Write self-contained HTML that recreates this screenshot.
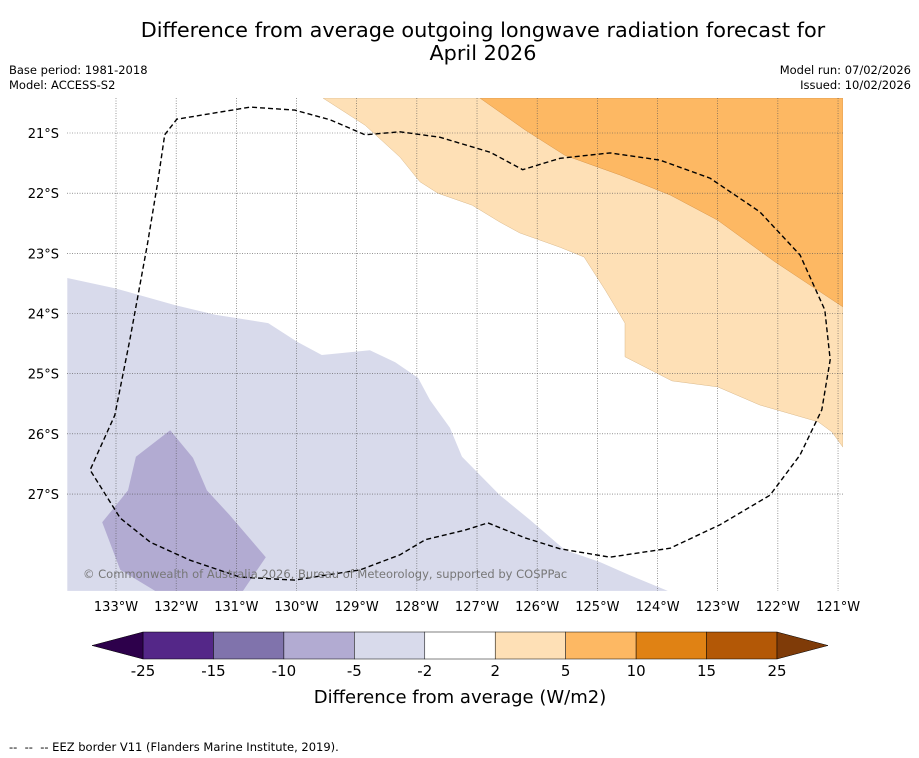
<!DOCTYPE html>
<html><head><meta charset="utf-8"><style>
body{margin:0;background:#fff;font-family:"Liberation Sans","DejaVu Sans",sans-serif}
#wrap{position:relative;width:919px;height:758px;overflow:hidden}
.t{position:absolute;white-space:nowrap;color:#000}
</style></head><body>
<div id="wrap">
<div class="t" style="left:0;width:966px;top:19px;text-align:center;font-size:20.8px;line-height:23px;font-family:'DejaVu Sans',sans-serif">Difference from average outgoing longwave radiation forecast for<br>April 2026</div>
<div class="t" style="left:9px;top:63px;font-size:11.5px;line-height:15px;font-family:'DejaVu Sans',sans-serif">Base period: 1981-2018<br>Model: ACCESS-S2</div>
<div class="t" style="right:8px;top:63px;font-size:11.5px;line-height:15px;text-align:right;font-family:'DejaVu Sans',sans-serif">Model run: 07/02/2026<br>Issued: 10/02/2026</div>
<svg id="svg" width="919" height="758" style="position:absolute;left:0;top:0" font-family="DejaVu Sans, sans-serif"></svg>
<div class="t" style="left:9px;top:740px;font-size:11.5px;font-family:'DejaVu Sans',sans-serif">-- &nbsp;-- &nbsp;-- EEZ border V11 (Flanders Marine Institute, 2019).</div>
</div>
<script>
const lonTicks=[133,132,131,130,129,128,127,126,125,124,123,122,121];
const latTicks=[21,22,23,24,25,26,27];
const cbBounds=[-25,-15,-10,-5,-2,2,5,10,15,25];
const cbColors=["#542788","#8073ac","#b2abd2","#d8daeb","#ffffff","#fee0b6","#fdb863","#e08214","#b35806"];
const lightOrangeLon=[129.56,128.86,128.28,127.95,127.65,127.08,126.62,126.29,125.62,125.22,124.87,124.54,124.54,123.76,123.0,122.30,121.33,121.10,120.92,120.92];
const lightOrangeLat=[20.42,20.87,21.40,21.81,22.00,22.20,22.48,22.66,22.90,23.06,23.61,24.16,24.72,25.12,25.22,25.52,25.80,25.97,26.22,20.42];
const orangeLon=[126.95,126.20,125.54,124.62,123.79,123.0,122.05,120.92,120.92];
const orangeLat=[20.42,20.95,21.37,21.70,22.03,22.45,23.14,23.89,20.42];
const lightPurpleLon=[133.81,133.02,132.02,131.35,130.47,129.99,129.58,128.78,128.36,127.98,127.78,127.45,127.25,126.62,126.12,125.54,124.96,124.46,123.83,133.81];
const lightPurpleLat=[23.41,23.58,23.86,24.02,24.16,24.47,24.69,24.61,24.81,25.07,25.44,25.90,26.38,27.02,27.43,27.93,28.13,28.35,28.61,28.61];
const purpleLon=[132.10,131.72,131.49,131.11,130.51,130.89,132.35,132.93,133.23,132.80,132.67];
const purpleLat=[25.94,26.40,26.94,27.35,28.05,28.61,28.61,28.26,27.47,26.94,26.38];
const eezLon=[132.19,131.99,130.77,130.03,129.44,128.86,128.28,127.62,126.78,126.24,125.62,124.79,123.96,123.13,122.30,121.63,121.22,121.13,121.27,121.63,122.13,122.96,123.79,124.79,125.62,126.20,126.82,127.20,127.86,128.28,128.94,130.03,130.94,131.77,132.43,132.93,133.43,133.02,132.77,132.48,132.30,132.19];
const eezLat=[21.03,20.77,20.57,20.62,20.78,21.03,20.98,21.07,21.32,21.61,21.42,21.33,21.45,21.75,22.31,23.03,23.94,24.77,25.60,26.35,27.02,27.51,27.90,28.05,27.91,27.73,27.48,27.60,27.76,28.01,28.26,28.43,28.38,28.10,27.80,27.40,26.60,25.69,24.44,22.86,21.78,21.03];

const NS="http://www.w3.org/2000/svg";
const svg=document.getElementById('svg');
const MX0=67,MX1=843,MY0=98,MY1=591;
const X=L=>116+(133-L)*60.17;
const Y=S=>133+(S-21)*60.17;
function mk(tag,attrs){const e=document.createElementNS(NS,tag);for(const k in attrs)e.setAttribute(k,attrs[k]);svg.appendChild(e);return e;}
const cp=mk('clipPath',{id:'mc'});
const r=document.createElementNS(NS,'rect');r.setAttribute('x',MX0);r.setAttribute('y',MY0);r.setAttribute('width',MX1-MX0);r.setAttribute('height',MY1-MY0);cp.appendChild(r);
const g=mk('g',{'clip-path':'url(#mc)'});


function poly(lons,lats,attrs,name){const p=document.createElementNS(NS,'polygon');p.setAttribute('points',lons.map((l,i)=>X(l).toFixed(1)+','+Y(lats[i]).toFixed(1)).join(' '));for(const k in attrs)p.setAttribute(k,attrs[k]);


g.appendChild(p);return p;}
poly(lightOrangeLon,lightOrangeLat,{fill:'#fee0b6',stroke:'#d9b88a','stroke-width':0.5},'contour-2-to-5');
poly(orangeLon,orangeLat,{fill:'#fdb863',stroke:'#d9964a','stroke-width':0.5},'contour-5-to-10');
poly(lightPurpleLon,lightPurpleLat,{fill:'#d8daeb'},'contour-minus5-to-minus2');
poly(purpleLon,purpleLat,{fill:'#b2abd2'},'contour-minus10-to-minus5');
lonTicks.forEach(L=>{const l=document.createElementNS(NS,'line');l.setAttribute('x1',X(L));l.setAttribute('x2',X(L));l.setAttribute('y1',MY0);l.setAttribute('y2',MY1);l.setAttribute('stroke','#555');l.setAttribute('stroke-width',0.6);l.setAttribute('stroke-dasharray','1,1.5');


g.appendChild(l);});
latTicks.forEach(S=>{const l=document.createElementNS(NS,'line');l.setAttribute('y1',Y(S));l.setAttribute('y2',Y(S));l.setAttribute('x1',MX0);l.setAttribute('x2',MX1);l.setAttribute('stroke','#555');l.setAttribute('stroke-width',0.6);l.setAttribute('stroke-dasharray','1,1.5');


g.appendChild(l);});
const eez=document.createElementNS(NS,'polyline');
eez.setAttribute('points',eezLon.map((l,i)=>X(l).toFixed(1)+','+Y(eezLat[i]).toFixed(1)).join(' '));
eez.setAttribute('fill','none');eez.setAttribute('stroke','#000');eez.setAttribute('stroke-width',1.4);eez.setAttribute('stroke-dasharray','5,3');eez.setAttribute('stroke-linejoin','round');


g.appendChild(eez);
const cr=mk('text',{x:83,y:578,'font-size':11.5,fill:'#777'});cr.textContent='© Commonwealth of Australia 2026, Bureau of Meteorology, supported by COSPPac';


lonTicks.forEach(L=>{const t=mk('text',{x:X(L),y:611,'font-size':13,'text-anchor':'middle'});t.textContent=L+'°W';

});
latTicks.forEach(S=>{const t=mk('text',{x:59,y:Y(S)+5,'font-size':13,'text-anchor':'end'});t.textContent=S+'°S';

});
const CB0=143,CB1=777,CY0=632,CY1=659;
const segW=(CB1-CB0)/cbColors.length;
cbColors.forEach((c,i)=>{const s=mk('rect',{x:CB0+i*segW,y:CY0,width:segW,height:CY1-CY0,fill:c,stroke:'#000','stroke-width':0.5});

});
const lt=mk('polygon',{points:`${CB0},${CY0} 92,${(CY0+CY1)/2} ${CB0},${CY1}`,fill:'#2d004b',stroke:'#000','stroke-width':0.5});


const rt=mk('polygon',{points:`${CB1},${CY0} 828,${(CY0+CY1)/2} ${CB1},${CY1}`,fill:'#7f3b08',stroke:'#000','stroke-width':0.5});


cbBounds.forEach((b,i)=>{const t=mk('text',{x:CB0+i*segW,y:676,'font-size':15,'text-anchor':'middle'});t.textContent=b;

});
const ct=mk('text',{x:460,y:703,'font-size':18,'text-anchor':'middle'});ct.textContent='Difference from average (W/m2)';


</script>
</body></html>
